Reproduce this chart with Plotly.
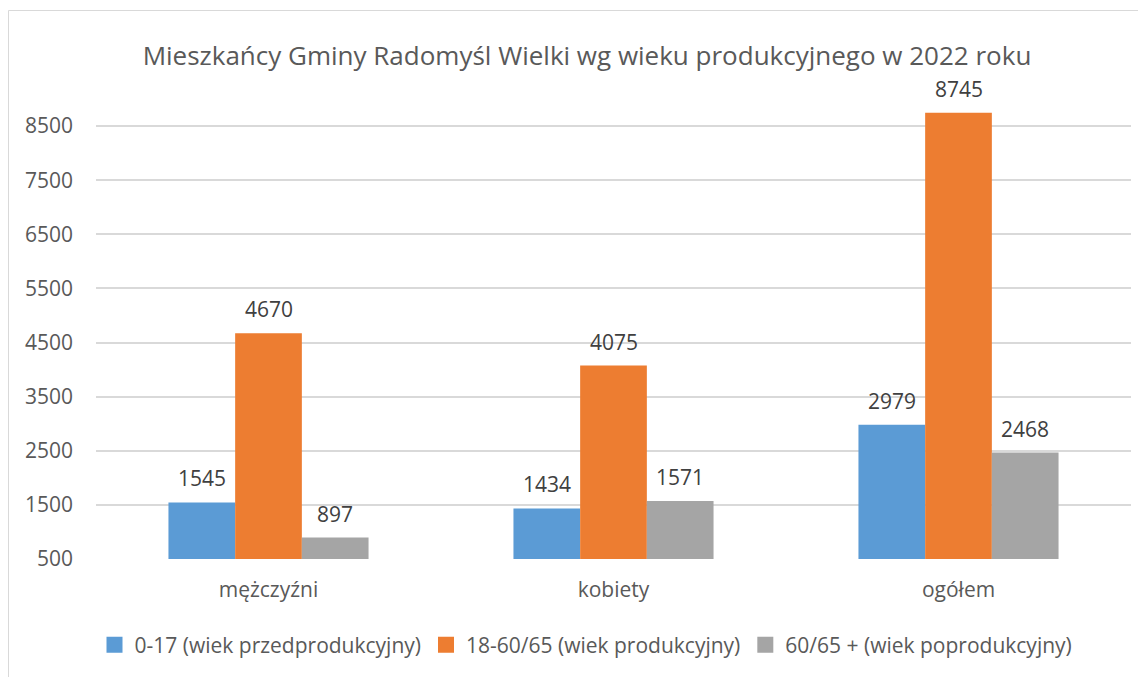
import plotly.graph_objects as go

categories = ["mężczyźni", "kobiety", "ogółem"]
series_names = ["0-17 (wiek przedprodukcyjny)", "18-60/65 (wiek produkcyjny)", "60/65 + (wiek poprodukcyjny)"]
val_pre = [1545, 1434, 2979]
val_prod = [4670, 4075, 8745]
val_post = [897, 1571, 2468]
colors = ["#5B9BD5", "#ED7D31", "#A5A5A5"]
tick_vals = [500, 1500, 2500, 3500, 4500, 5500, 6500, 7500, 8500]
title_text = "Mieszkańcy Gminy Radomyśl Wielki wg wieku produkcyjnego w 2022 roku"

FONT = "Open Sans"
BASE = 500
BARGAP = 0.42
W, H = 1138, 669
ML, MR, MT, MB = 88, 15, 91, 118
PH = H - MT - MB
PW = W - ML - MR

fig = go.Figure()
all_vals = [val_pre, val_prod, val_post]
for name, vals, col in zip(series_names, all_vals, colors):
    fig.add_trace(go.Bar(
        x=categories, y=[v - BASE for v in vals], base=BASE, name=name,
        marker=dict(color=col, line=dict(width=0)),
        hoverinfo="skip", showlegend=False,
    ))
for name, col in zip(series_names, colors):
    fig.add_trace(go.Scatter(
        x=[None], y=[None], mode="markers", name=name,
        marker=dict(symbol="square", size=16, color=col),
    ))

bw = (1 - BARGAP) / 3
for si, vals in enumerate(all_vals):
    for ci, v in enumerate(vals):
        fig.add_annotation(
            x=ci + (si - 1) * bw, y=v, xref="x", yref="y",
            text=str(v), showarrow=False, yanchor="bottom", yshift=9, borderpad=0,
            font=dict(family=FONT, size=21, color="#404040"),
        )

fig.add_shape(type="rect", xref="paper", yref="paper",
              x0=(0.5 - ML) / PW, x1=2, y0=-2, y1=(H - MB - 2.5) / PH,
              line=dict(color="#D9D9D9", width=1), fillcolor="rgba(0,0,0,0)", layer="below")

fig.update_layout(
    width=W, height=H,
    margin=dict(l=ML, r=MR, t=MT, b=MB),
    paper_bgcolor="white", plot_bgcolor="white",
    barmode="group", bargap=BARGAP, bargroupgap=0,
    title=dict(text=title_text, x=579 / W, xanchor="center", xref="container",
               y=1 - 48 / H, yanchor="middle", yref="container",
               font=dict(family=FONT, size=26, color="#595959")),
    xaxis=dict(showgrid=False, showline=False, ticks="", ticklabelstandoff=16,
               tickfont=dict(family=FONT, size=21, color="#595959")),
    yaxis=dict(range=[500, 9000], tickvals=tick_vals, showgrid=True, gridcolor="#D9D9D9",
               gridwidth=1.5, zeroline=False, showline=False, ticks="", ticklabelstandoff=22,
               tickfont=dict(family=FONT, size=21, color="#595959")),
    legend=dict(orientation="h", xref="container", x=578 / W, xanchor="center",
                yref="container", y=1 - 637 / H, yanchor="middle",
                font=dict(family=FONT, size=21, color="#595959"),
                itemwidth=30, traceorder="normal"),
    showlegend=True,
)

fig.write_html("out.html")
